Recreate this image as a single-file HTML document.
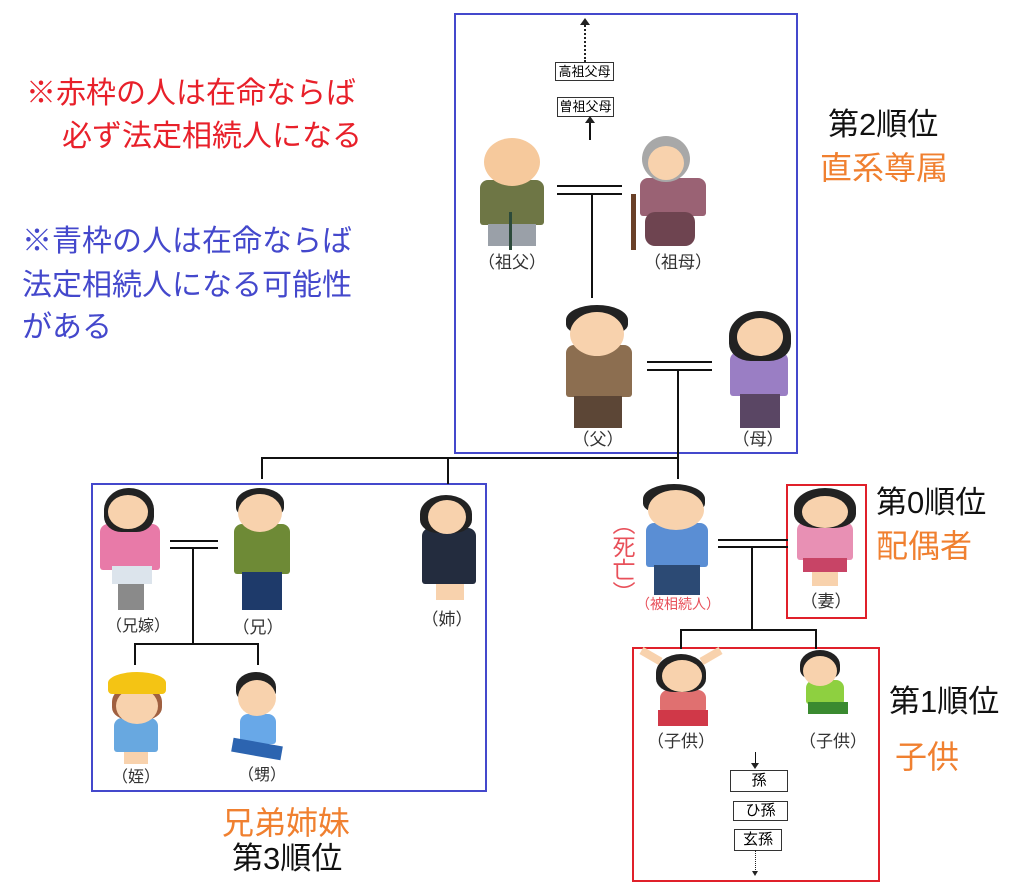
<!DOCTYPE html>
<html><head><meta charset="utf-8"><style>
body{margin:0;width:1024px;height:895px;background:#fff;position:relative;overflow:hidden;font-family:"Liberation Sans","Noto Sans CJK JP",sans-serif}
.a{position:absolute}
.t{position:absolute;white-space:nowrap;line-height:1}
.ln{position:absolute;background:#111}
.bx{position:absolute;border:1px solid #333;font-size:13px;text-align:center;line-height:17px;background:#fff}
.lab{position:absolute;font-size:17px;color:#333;white-space:nowrap;transform:translateX(-50%);line-height:1}
.hd{position:absolute;border-radius:50%;background:#f8d2ad}
.hr{position:absolute;border-radius:50% 50% 35% 35%;background:#222}
.bd{position:absolute;border-radius:8px 8px 3px 3px}
.lg{position:absolute}
</style></head><body>
<div class="a" style="left:454px;top:13px;width:340px;height:437px;border:2px solid #4448cc"></div>
<div class="a" style="left:91px;top:483px;width:392px;height:305px;border:2px solid #4448cc"></div>
<div class="a" style="left:786px;top:484px;width:77px;height:131px;border:2px solid #e0202a"></div>
<div class="a" style="left:632px;top:647px;width:244px;height:231px;border:2px solid #e0202a"></div>

<div class="t" style="left:26px;top:79px;font-size:30px;color:#e8202a">※赤枠の人は在命ならば</div>
<div class="t" style="left:62px;top:122px;font-size:30px;color:#e8202a">必ず法定相続人になる</div>
<div class="t" style="left:22px;top:227px;font-size:30px;color:#4448cc">※青枠の人は在命ならば</div>
<div class="t" style="left:22px;top:271px;font-size:30px;color:#4448cc">法定相続人になる可能性</div>
<div class="t" style="left:22px;top:313px;font-size:30px;color:#4448cc">がある</div>

<div class="t" style="left:828px;top:109px;font-size:31px;color:#111">第2順位</div>
<div class="t" style="left:820px;top:152px;font-size:32px;color:#f08030">直系尊属</div>
<div class="t" style="left:876px;top:487px;font-size:31px;color:#111">第0順位</div>
<div class="t" style="left:876px;top:530px;font-size:32px;color:#f08030">配偶者</div>
<div class="t" style="left:889px;top:686px;font-size:31px;color:#111">第1順位</div>
<div class="t" style="left:895px;top:741px;font-size:32px;color:#f08030">子供</div>
<div class="t" style="left:222px;top:807px;font-size:32px;color:#f08030">兄弟姉妹</div>
<div class="t" style="left:232px;top:843px;font-size:31px;color:#111">第3順位</div>

<div class="a" style="left:584px;top:22px;height:40px;border-left:2px dotted #222"></div>
<div class="a" style="left:580px;top:18px;border:5px solid transparent;border-bottom:7px solid #222;border-top:0"></div>
<div class="bx" style="left:555px;top:62px;width:57px;height:17px">高祖父母</div>
<div class="bx" style="left:557px;top:97px;width:55px;height:18px">曽祖父母</div>
<div class="ln" style="left:589px;top:122px;width:2px;height:18px"></div>
<div class="a" style="left:585px;top:116px;border:5px solid transparent;border-bottom:7px solid #222;border-top:0"></div>

<div class="ln" style="left:557px;top:185px;width:65px;height:2px"></div>
<div class="ln" style="left:557px;top:193px;width:65px;height:2px"></div>
<div class="ln" style="left:591px;top:193px;width:2px;height:105px"></div>
<div class="ln" style="left:647px;top:361px;width:65px;height:2px"></div>
<div class="ln" style="left:647px;top:369px;width:65px;height:2px"></div>
<div class="ln" style="left:677px;top:369px;width:2px;height:110px"></div>
<div class="ln" style="left:261px;top:457px;width:418px;height:2px"></div>
<div class="ln" style="left:261px;top:457px;width:2px;height:22px"></div>
<div class="ln" style="left:447px;top:457px;width:2px;height:27px"></div>
<div class="ln" style="left:170px;top:540px;width:48px;height:2px"></div>
<div class="ln" style="left:170px;top:547px;width:48px;height:2px"></div>
<div class="ln" style="left:192px;top:547px;width:2px;height:97px"></div>
<div class="ln" style="left:134px;top:643px;width:125px;height:2px"></div>
<div class="ln" style="left:134px;top:643px;width:2px;height:22px"></div>
<div class="ln" style="left:257px;top:643px;width:2px;height:22px"></div>
<div class="ln" style="left:718px;top:539px;width:70px;height:2px"></div>
<div class="ln" style="left:718px;top:546px;width:70px;height:2px"></div>
<div class="ln" style="left:751px;top:546px;width:2px;height:84px"></div>
<div class="ln" style="left:680px;top:629px;width:137px;height:2px"></div>
<div class="ln" style="left:680px;top:629px;width:2px;height:20px"></div>
<div class="ln" style="left:815px;top:629px;width:2px;height:20px"></div>

<div class="ln" style="left:755px;top:752px;width:1px;height:12px"></div>
<div class="a" style="left:751px;top:763px;border:4px solid transparent;border-top:6px solid #222;border-bottom:0"></div>
<div class="bx" style="left:730px;top:770px;width:56px;height:20px;font-size:15px;line-height:20px">孫</div>
<div class="bx" style="left:733px;top:801px;width:53px;height:18px;font-size:15px;line-height:18px">ひ孫</div>
<div class="bx" style="left:734px;top:829px;width:46px;height:20px;font-size:15px;line-height:20px">玄孫</div>
<div class="a" style="left:755px;top:850px;height:22px;border-left:1px dotted #222"></div>
<div class="a" style="left:752px;top:871px;border:3px solid transparent;border-top:5px solid #222;border-bottom:0"></div>

<div class="bd" style="left:480px;top:180px;width:64px;height:45px;background:#6e7645"></div>
<div class="lg" style="left:488px;top:224px;width:48px;height:22px;background:#9aa0a8"></div>
<div class="hd" style="left:484px;top:138px;width:56px;height:48px;background:#f6c99c"></div>
<div class="ln" style="left:509px;top:212px;width:3px;height:38px;background:#2c4a3a"></div>
<div class="bd" style="left:640px;top:178px;width:66px;height:38px;background:#9a6274"></div>
<div class="lg" style="left:645px;top:212px;width:50px;height:34px;background:#6e4450;border-radius:10px"></div>
<div class="hd" style="left:642px;top:136px;width:48px;height:46px;background:#a8a8a8"></div>
<div class="hd" style="left:648px;top:146px;width:36px;height:34px"></div>
<div class="ln" style="left:631px;top:194px;width:5px;height:56px;background:#6a4028"></div>
<div class="bd" style="left:566px;top:345px;width:66px;height:52px;background:#8c6e50"></div>
<div class="lg" style="left:574px;top:396px;width:48px;height:32px;background:#5c4636"></div>
<div class="hr" style="left:566px;top:305px;width:62px;height:30px"></div>
<div class="hd" style="left:570px;top:312px;width:54px;height:44px"></div>
<div class="bd" style="left:730px;top:352px;width:58px;height:44px;background:#9a7ec4"></div>
<div class="lg" style="left:740px;top:394px;width:40px;height:34px;background:#5a4664"></div>
<div class="hr" style="left:729px;top:311px;width:62px;height:50px"></div>
<div class="hd" style="left:737px;top:318px;width:46px;height:38px"></div>

<div class="bd" style="left:646px;top:523px;width:62px;height:44px;background:#5a8ed4"></div>
<div class="lg" style="left:654px;top:565px;width:46px;height:30px;background:#2c4a74"></div>
<div class="hr" style="left:643px;top:484px;width:62px;height:30px"></div>
<div class="hd" style="left:648px;top:490px;width:56px;height:40px"></div>
<div class="bd" style="left:797px;top:522px;width:56px;height:38px;background:#e890b4"></div>
<div class="lg" style="left:803px;top:558px;width:44px;height:14px;background:#c84466"></div>
<div class="lg" style="left:812px;top:572px;width:26px;height:14px;background:#f8d2ad"></div>
<div class="hr" style="left:794px;top:488px;width:62px;height:40px"></div>
<div class="hd" style="left:802px;top:496px;width:46px;height:32px"></div>
<div class="bd" style="left:660px;top:690px;width:46px;height:22px;background:#e07070"></div>
<div class="lg" style="left:658px;top:710px;width:50px;height:16px;background:#d03848"></div>
<div class="hr" style="left:656px;top:654px;width:50px;height:38px"></div>
<div class="hd" style="left:662px;top:660px;width:40px;height:32px"></div>
<div class="a" style="left:640px;top:652px;width:22px;height:8px;background:#f8d2ad;transform:rotate(30deg)"></div>
<div class="a" style="left:700px;top:652px;width:22px;height:8px;background:#f8d2ad;transform:rotate(-30deg)"></div>
<div class="bd" style="left:806px;top:680px;width:38px;height:24px;background:#8ed040"></div>
<div class="lg" style="left:808px;top:702px;width:40px;height:12px;background:#3a8a30"></div>
<div class="hr" style="left:800px;top:650px;width:40px;height:30px"></div>
<div class="hd" style="left:803px;top:656px;width:34px;height:30px"></div>

<div class="bd" style="left:100px;top:524px;width:60px;height:46px;background:#e87aa8"></div>
<div class="lg" style="left:112px;top:566px;width:40px;height:18px;background:#dce4ec"></div>
<div class="lg" style="left:118px;top:584px;width:26px;height:26px;background:#8a8a8a"></div>
<div class="hr" style="left:104px;top:488px;width:50px;height:44px"></div>
<div class="hd" style="left:108px;top:495px;width:40px;height:34px"></div>
<div class="bd" style="left:234px;top:524px;width:56px;height:50px;background:#6e8a36"></div>
<div class="lg" style="left:242px;top:572px;width:40px;height:38px;background:#1e3a6a"></div>
<div class="hr" style="left:236px;top:488px;width:48px;height:30px"></div>
<div class="hd" style="left:238px;top:494px;width:44px;height:38px"></div>
<div class="bd" style="left:422px;top:528px;width:54px;height:56px;background:#232c3e"></div>
<div class="lg" style="left:436px;top:584px;width:28px;height:16px;background:#f8d2ad"></div>
<div class="hr" style="left:420px;top:495px;width:52px;height:38px"></div>
<div class="hd" style="left:428px;top:500px;width:38px;height:34px"></div>
<div class="bd" style="left:114px;top:718px;width:44px;height:34px;background:#68a8e0"></div>
<div class="lg" style="left:124px;top:752px;width:24px;height:12px;background:#f8d2ad"></div>
<div class="hr" style="left:112px;top:684px;width:50px;height:36px;background:#a06040"></div>
<div class="hd" style="left:116px;top:688px;width:42px;height:36px"></div>
<div class="a" style="left:108px;top:672px;width:58px;height:22px;background:#f4c414;border-radius:50% 50% 4px 4px"></div>
<div class="bd" style="left:240px;top:714px;width:36px;height:30px;background:#68a8e8"></div>
<div class="lg" style="left:232px;top:742px;width:50px;height:14px;background:#2c64b0;transform:rotate(10deg)"></div>
<div class="hr" style="left:236px;top:672px;width:40px;height:30px"></div>
<div class="hd" style="left:238px;top:680px;width:38px;height:36px"></div>

<div class="lab" style="left:512px;top:254px">（祖父）</div>
<div class="lab" style="left:678px;top:254px">（祖母）</div>
<div class="lab" style="left:598px;top:431px">（父）</div>
<div class="lab" style="left:758px;top:431px">（母）</div>
<div class="lab" style="left:678px;top:597px;font-size:14px;color:#e8505a">（被相続人）</div>
<div class="lab" style="left:826px;top:593px">（妻）</div>
<div class="lab" style="left:681px;top:733px">（子供）</div>
<div class="lab" style="left:833px;top:733px">（子供）</div>
<div class="lab" style="left:138px;top:619px;font-size:16px">（兄嫁）</div>
<div class="lab" style="left:258px;top:619px">（兄）</div>
<div class="lab" style="left:447px;top:611px">（姉）</div>
<div class="lab" style="left:136px;top:770px;font-size:16px">（姪）</div>
<div class="lab" style="left:262px;top:768px;font-size:16px">（甥）</div>
<div class="t" style="left:610px;top:512px;font-size:23px;color:#e8505a;writing-mode:vertical-rl;line-height:1">（死亡）</div>
</body></html>
